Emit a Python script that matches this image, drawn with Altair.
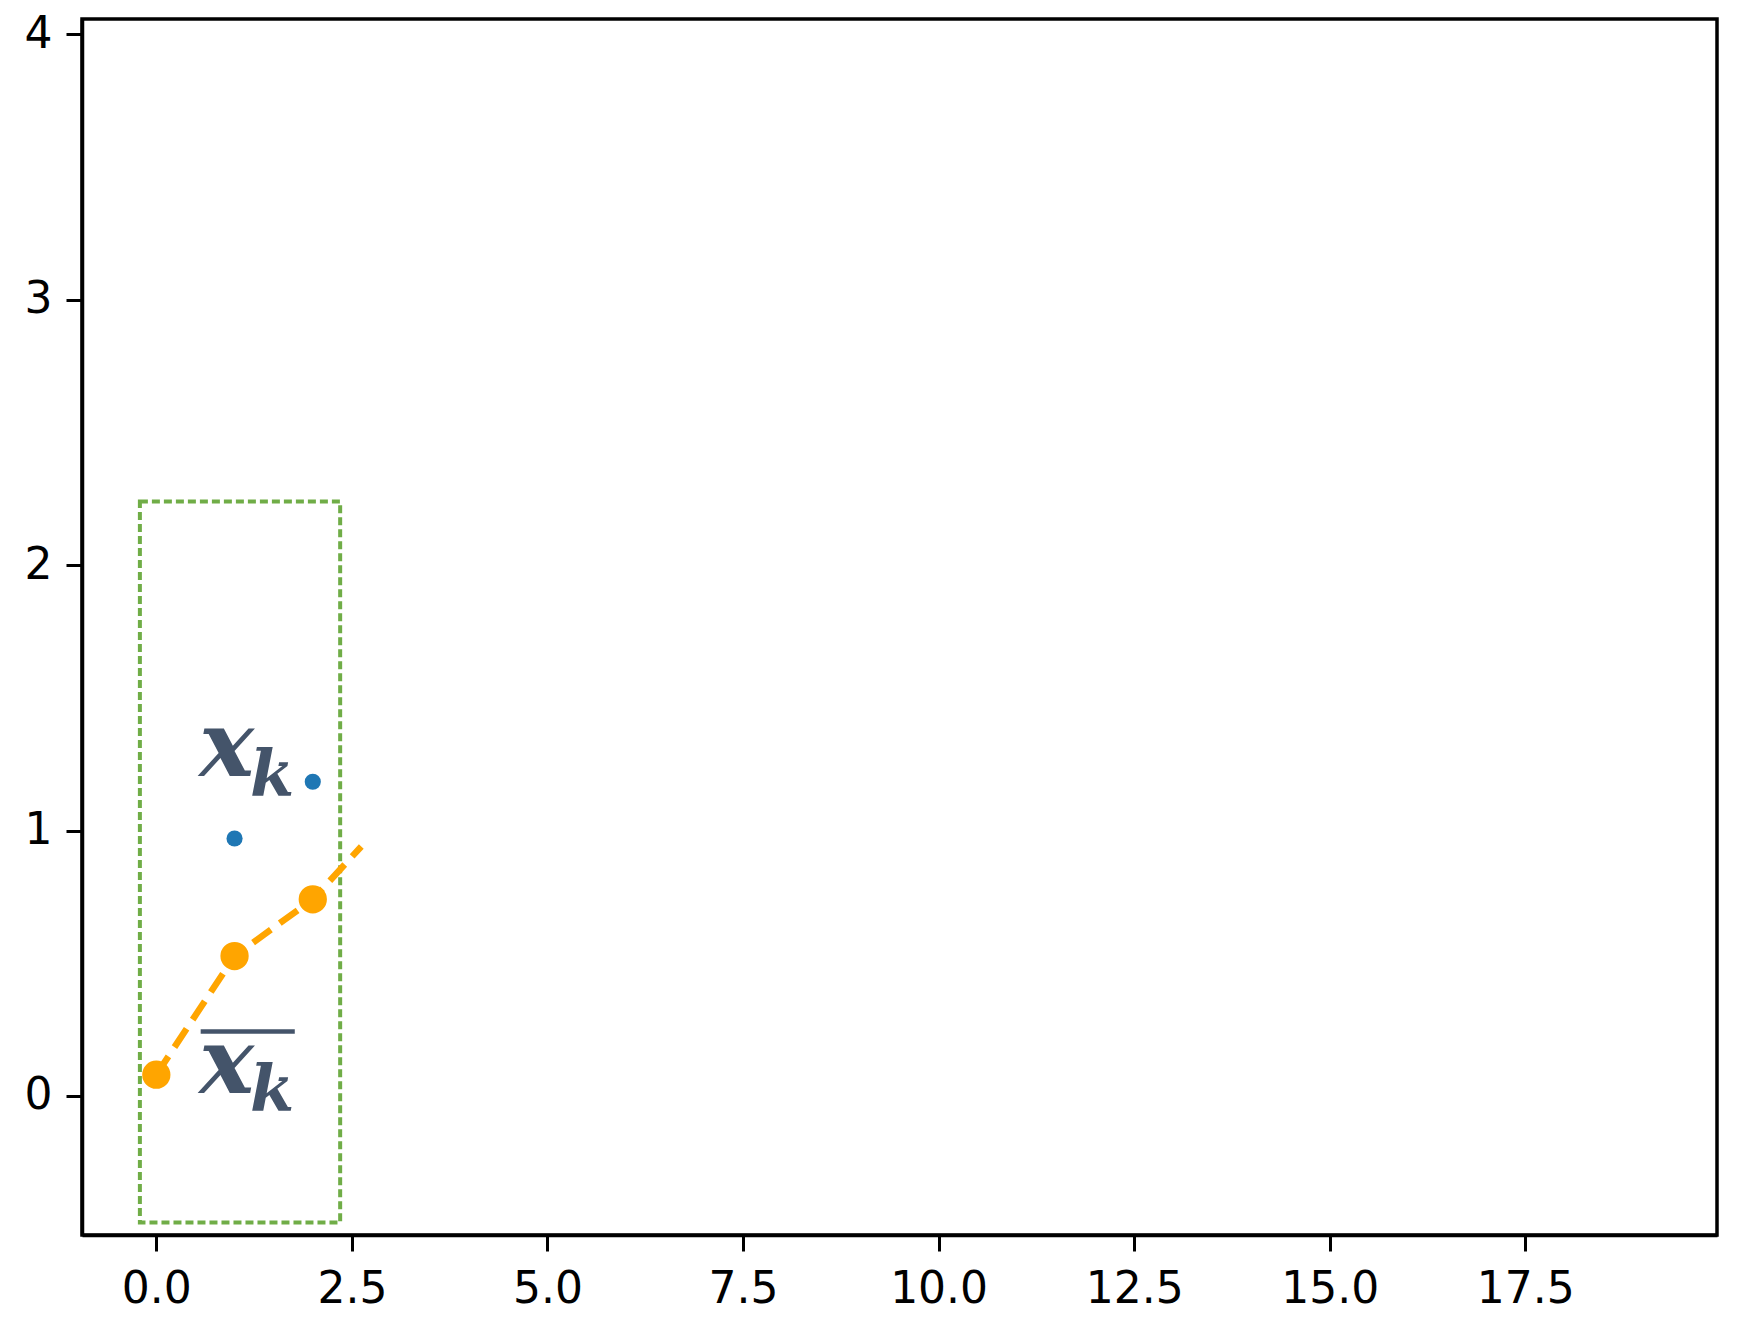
import altair as alt
import pandas as pd

# data
line_x = [0, 1, 2, 2.62]
line_y = [0.08, 0.527, 0.741, 0.94]
mark_x = [0, 1, 2]
mark_y = [0.08, 0.527, 0.741]
blue_x = [1, 2]
blue_y = [0.97, 1.184]
box_x = [-0.21]
box_x2 = [2.35]
box_y = [2.24]
box_y2 = [-0.477]
x_ticks = [0, 2.5, 5, 7.5, 10, 12.5, 15, 17.5]
y_ticks = [0, 1, 2, 3, 4]
main_labels = ["x", "x"]
main_lx = [0.90, 0.90]
main_ly = [1.31, 0.117]
sub_labels = ["k", "k"]
sub_lx = [1.48, 1.48]
sub_ly = [1.205, 0.02]
bar_x = [0.567]
bar_x2 = [1.77]
bar_y = [0.243]

xs = alt.Scale(domain=[-0.95, 19.95], nice=False, zero=False)
ys = alt.Scale(domain=[-0.524, 4.058], nice=False, zero=False)

xaxis = alt.Axis(values=x_ticks, format=".1f", title=None, grid=False, labelPadding=16)
yaxis = alt.Axis(values=y_ticks, format="d", title=None, grid=False, labelPadding=14)

box = alt.Chart(pd.DataFrame({"x": box_x, "x2": box_x2, "y": box_y, "y2": box_y2})).mark_rect(
    fill=None, stroke="#70AD47", strokeWidth=4, strokeDash=[8, 4]
).encode(
    x=alt.X("x:Q", scale=xs, axis=xaxis), x2="x2:Q",
    y=alt.Y("y:Q", scale=ys, axis=yaxis), y2="y2:Q"
)

line = alt.Chart(pd.DataFrame({"x": line_x, "y": line_y})).mark_line(
    color="#FFA500", strokeWidth=6.5, strokeDash=[22, 11]
).encode(x=alt.X("x:Q", scale=xs), y=alt.Y("y:Q", scale=ys))

opts = alt.Chart(pd.DataFrame({"x": mark_x, "y": mark_y})).mark_circle(
    color="#FFA500", opacity=1, size=800
).encode(x=alt.X("x:Q", scale=xs), y=alt.Y("y:Q", scale=ys))

blue = alt.Chart(pd.DataFrame({"x": blue_x, "y": blue_y})).mark_circle(
    color="#1f77b4", opacity=1, size=260
).encode(x=alt.X("x:Q", scale=xs), y=alt.Y("y:Q", scale=ys))

main_t = alt.Chart(pd.DataFrame({"x": main_lx, "y": main_ly, "t": main_labels})).mark_text(
    font="DejaVu Serif", fontStyle="italic", fontWeight="bold", fontSize=92, color="#44546A",
    align="center", baseline="middle"
).encode(x=alt.X("x:Q", scale=xs), y=alt.Y("y:Q", scale=ys), text="t:N")

sub_t = alt.Chart(pd.DataFrame({"x": sub_lx, "y": sub_ly, "t": sub_labels})).mark_text(
    font="DejaVu Serif", fontStyle="italic", fontWeight="bold", fontSize=64, color="#44546A",
    align="center", baseline="middle"
).encode(x=alt.X("x:Q", scale=xs), y=alt.Y("y:Q", scale=ys), text="t:N")

bar = alt.Chart(pd.DataFrame({"x": bar_x, "x2": bar_x2, "y": bar_y})).mark_rule(
    color="#44546A", strokeWidth=4.5
).encode(x=alt.X("x:Q", scale=xs), x2="x2:Q", y=alt.Y("y:Q", scale=ys))

chart = alt.layer(box, line, opts, blue, main_t, sub_t, bar).properties(
    width=1635, height=1216,
    autosize=alt.AutoSizeParams(type="none"),
    padding={"left": 74, "top": 11, "right": 10, "bottom": 90},
).configure_view(
    stroke="black", strokeWidth=3.5
).configure_axis(
    domainColor="black", domainWidth=3.5, tickColor="black", tickWidth=3,
    tickSize=16, labelFont="DejaVu Sans", labelFontSize=44, labelColor="black"
)

chart.save("out.html", embed_options={"renderer": "svg", "actions": False})
